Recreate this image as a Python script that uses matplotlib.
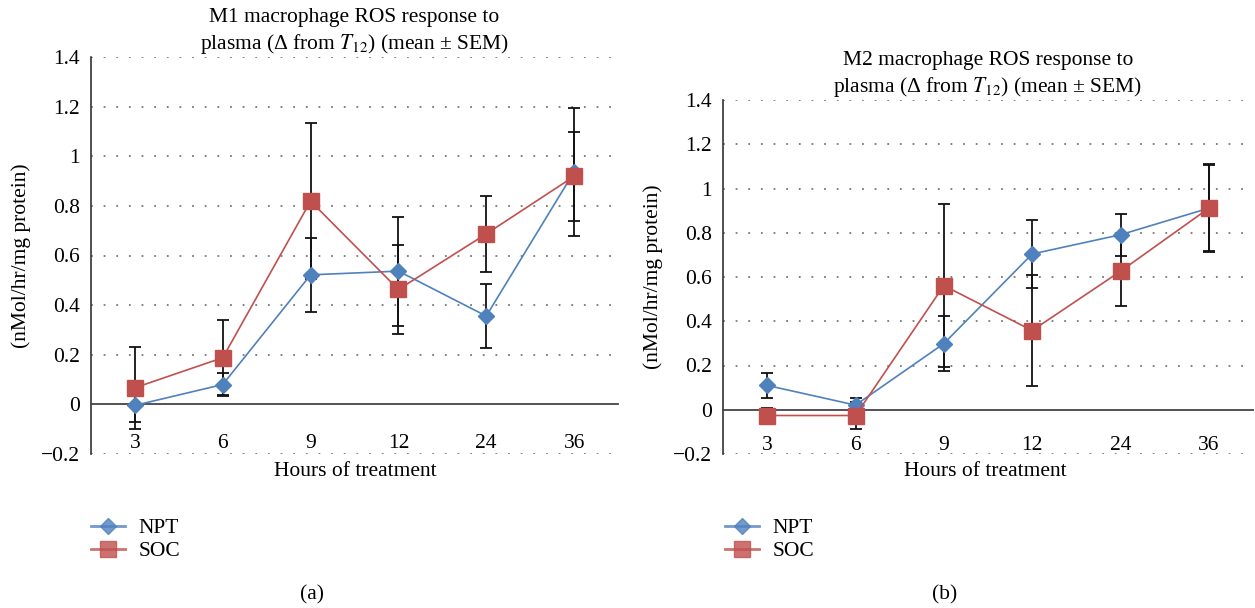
import numpy as np
import matplotlib
matplotlib.use("Agg")
import matplotlib.pyplot as plt
from matplotlib.lines import Line2D

plt.rcParams['font.family'] = ['Liberation Serif', 'DejaVu Serif']
plt.rcParams['mathtext.fontset'] = 'stix'

hours = ["3", "6", "9", "12", "24", "36"]

# M1 panel
m1_npt = [-0.004, 0.08, 0.522, 0.537, 0.356, 0.937]
m1_npt_err = [0.067, 0.046, 0.15, 0.22, 0.129, 0.258]
m1_soc = [0.067, 0.188, 0.819, 0.463, 0.687, 0.919]
m1_soc_err = [0.165, 0.152, 0.314, 0.18, 0.154, 0.178]

# M2 panel
m2_npt = [0.110, 0.021, 0.299, 0.704, 0.791, 0.911]
m2_npt_err = [0.057, 0.03, 0.125, 0.155, 0.095, 0.2]
m2_soc = [-0.026, -0.026, 0.561, 0.358, 0.626, 0.911]
m2_soc_err = [0.035, 0.063, 0.368, 0.252, 0.158, 0.195]

yticks = [-0.2, 0, 0.2, 0.4, 0.6, 0.8, 1, 1.2, 1.4]
ytick_labels = ["\u22120.2", "0", "0.2", "0.4", "0.6", "0.8", "1", "1.2", "1.4"]

blue = '#4F81BD'
red = '#C0504D'
fs = 15.5
W, H = 1255, 608

fig = plt.figure(figsize=(12.55, 6.08), dpi=100)
ax1 = fig.add_axes([91 / W, 1 - 454 / H, 527 / W, 397 / H])
ax2 = fig.add_axes([723 / W, 1 - 454 / H, 530 / W, 354 / H])


def draw_panel(ax, npt, npt_err, soc, soc_err, title, xpad):
    x = np.arange(len(hours))
    # x axis sits on the zero line, like the original spreadsheet chart
    for s in ['top', 'right']:
        ax.spines[s].set_visible(False)
    ax.spines['bottom'].set_position(('data', 0))
    ax.spines['bottom'].set_color('#444444')
    ax.spines['bottom'].set_linewidth(1.3)
    ax.spines['left'].set_color('#333333')
    ax.spines['left'].set_linewidth(1.2)

    ax.errorbar(x, npt, yerr=npt_err, fmt='none', ecolor='#111111',
                elinewidth=1.3, capsize=4, capthick=1.3, zorder=3)
    ax.errorbar(x, soc, yerr=soc_err, fmt='none', ecolor='#111111',
                elinewidth=1.3, capsize=4, capthick=1.3, zorder=3)
    ax.plot(x, npt, color=blue, lw=1.2, marker='D', ms=8,
            markeredgecolor=blue, zorder=4)
    ax.plot(x, soc, color=red, lw=1.2, marker='s', ms=11,
            markeredgecolor=red, zorder=5)

    ax.set_xlim(-0.5, 5.5)
    ax.set_ylim(-0.2, 1.4)
    ax.set_yticks(yticks)
    ax.set_yticklabels(ytick_labels, fontsize=fs)
    ax.set_xticks(x)
    ax.set_xticklabels(hours, fontsize=fs)
    ax.tick_params(axis='y', length=0, pad=8)
    ax.tick_params(axis='x', length=0, pad=xpad)

    for v in yticks:
        if v != 0:
            ax.axhline(v, color='#777777', lw=1.3, ls=(0, (1, 6)), zorder=1)

    ax.set_title(title, fontsize=fs, linespacing=1.3, pad=6)
    ax.set_ylabel("(nMol/hr/mg protein)", fontsize=fs, labelpad=7)


draw_panel(ax1, m1_npt, m1_npt_err, m1_soc, m1_soc_err,
           "M1 macrophage ROS response to\nplasma (\u0394 from $T_{12}$) (mean \u00b1 SEM)", 21)
draw_panel(ax2, m2_npt, m2_npt_err, m2_soc, m2_soc_err,
           "M2 macrophage ROS response to\nplasma (\u0394 from $T_{12}$) (mean \u00b1 SEM)", 19)

handles = [
    Line2D([], [], color=blue, lw=2, alpha=0.8, marker='D', ms=8,
           markeredgecolor=blue),
    Line2D([], [], color=red, lw=2, alpha=0.8, marker='s', ms=11,
           markeredgecolor=red),
]
for leg_x, xl_x, lab_x, lab in [(91, 355, 312, "(a)"), (725, 985, 945, "(b)")]:
    fig.legend(handles, ["NPT", "SOC"], loc='upper left',
               bbox_to_anchor=(leg_x / W, 1 - 518 / H), frameon=False,
               fontsize=fs, handlelength=1.6, handletextpad=0.6,
               labelspacing=0.15, borderpad=0, borderaxespad=0)
    fig.text(xl_x / W, 1 - 472 / H, "Hours of treatment", fontsize=fs,
             ha='center', va='center')
    fig.text(lab_x / W, 1 - 595 / H, lab, fontsize=fs,
             ha='center', va='center')

fig.savefig("out.png", dpi=100)
